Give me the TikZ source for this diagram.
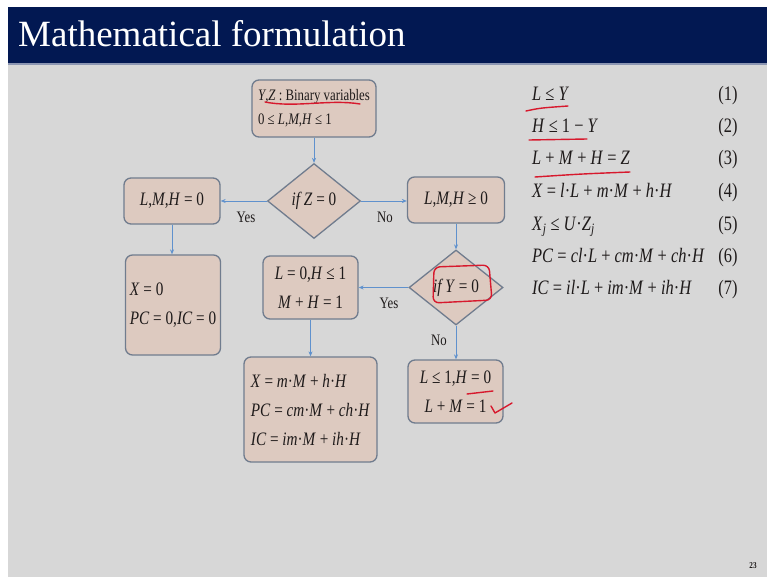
\documentclass[tikz,border=0pt]{standalone}
\usepackage{fontspec}
\setmainfont[FakeStretch=0.8]{Liberation Serif}
\newfontfamily\titlefont{Liberation Serif}
\usetikzlibrary{shapes.geometric,arrows.meta}
\definecolor{navy}{RGB}{2,24,82}
\definecolor{slidebg}{RGB}{215,215,215}
\definecolor{headline}{RGB}{140,150,178}
\definecolor{boxfill}{RGB}{221,202,192}
\definecolor{boxline}{RGB}{112,124,142}
\definecolor{arrowc}{RGB}{95,145,205}
\definecolor{ink}{RGB}{215,25,45}
\definecolor{txt}{RGB}{30,26,26}
\newcommand\iv[1]{\textit{#1}}
\newcommand\cdt{·}
\tikzset{
  box/.style={draw=boxline, fill=boxfill, line width=1.3pt, rounded corners=7pt, inner sep=0pt, text=txt, font=\fontsize{19}{29}\selectfont},
  dia/.style={diamond, draw=boxline, fill=boxfill, line width=1.3pt, inner sep=0pt, text=txt, font=\fontsize{19}{22}\selectfont},
  conn/.style={draw=arrowc, line width=0.8pt, -{Stealth[length=5pt,width=4pt]}},
  lbl/.style={font=\fontsize{16}{18}\selectfont, text=txt, inner sep=0pt},
  eq/.style={font=\fontsize{20.5}{22}\selectfont, text=txt, anchor=base west, inner sep=0pt},
  eqn/.style={font=\fontsize{20.5}{22}\selectfont, text=txt, anchor=base, inner sep=0pt},
  redink/.style={draw=ink, line width=1.4pt, line cap=round, line join=round},
}
\begin{document}
\begin{tikzpicture}[x=1pt,y=-1pt]
\useasboundingbox (0,0) rectangle (767,577);
\fill[white] (0,0) rectangle (767,577);
\fill[slidebg] (8,7) rectangle (767,577);
\fill[navy] (8,7) rectangle (767,63);
\draw[headline, line width=2pt] (8,64) -- (767,64);
\node[anchor=base west, text=white, font=\titlefont\fontsize{37}{40}\selectfont, inner sep=0pt] (title) at (18,47) {Mathematical formulation};

% flowchart
\node[box, minimum width=124pt, minimum height=57pt, align=left, font=\fontsize{16}{24}\selectfont] (top) at (314,108.5)
  {\iv{Y},\iv{Z} : Binary variables\\0 ≤ \iv{L},\iv{M},\iv{H} ≤ 1};
\node[dia, minimum width=93pt, minimum height=75pt] (dz) at (314,201) {\iv{if Z} = 0};
\node[box, minimum width=96pt, minimum height=46pt] (lmh0) at (172,201) {\iv{L},\iv{M},\iv{H} = 0};
\node[box, minimum width=97pt, minimum height=46pt] (lmhge) at (456,200) {\iv{L},\iv{M},\iv{H} ≥ 0};
\node[dia, minimum width=94pt, minimum height=75pt] (dy) at (456,287.5) {\iv{if Y} = 0};
\node[box, minimum width=95pt, minimum height=100pt, align=left] (x0) at (173,305) {\iv{X} = 0\\\iv{PC} = 0,\iv{IC} = 0};
\node[box, minimum width=95pt, minimum height=63pt, align=center] (l0) at (310.5,287.5) {\iv{L} = 0,\iv{H} ≤ 1\\\iv{M} + \iv{H} = 1};
\node[box, minimum width=133pt, minimum height=105pt, align=left] (xm) at (310.5,409.5)
  {\iv{X} = \iv{m}\cdt\iv{M} + \iv{h}\cdt\iv{H}\\\iv{PC} = \iv{cm}\cdt\iv{M} + \iv{ch}\cdt\iv{H}\\\iv{IC} = \iv{im}\cdt\iv{M} + \iv{ih}\cdt\iv{H}};
\node[box, minimum width=95pt, minimum height=63pt, align=center] (l1) at (455.5,391.5) {\iv{L} ≤ 1,\iv{H} = 0\\\iv{L} + \iv{M} = 1};

\draw[conn] (top.south) -- (dz.north);
\draw[conn] (dz.west) -- (lmh0.east);
\draw[conn] (dz.east) -- (lmhge.west |- dz.east);
\draw[conn] (lmh0.south) -- (x0.north -| lmh0.south);
\draw[conn] (lmhge.south) -- (dy.north);
\draw[conn] (dy.west) -- (l0.east |- dy.west);
\draw[conn] (dy.south) -- (l1.north -| dy.south);
\draw[conn] (l0.south) -- (xm.north);

\node[lbl] (yes1) at (246,217) {Yes};
\node[lbl] (no1) at (385,217) {No};
\node[lbl] (yes2) at (389,303) {Yes};
\node[lbl] (no2) at (439,340) {No};

% equations
\node[eq] (e1) at (532,101) {\iv{L} ≤ \iv{Y}};
\node[eq] (e2) at (532,133) {\iv{H} ≤ 1 − \iv{Y}};
\node[eq] (e3) at (532,165) {\iv{L} + \iv{M} + \iv{H} = \iv{Z}};
\node[eq] (e4) at (532,198) {\iv{X} = \iv{l}\cdt\iv{L} + \iv{m}\cdt\iv{M} + \iv{h}\cdt\iv{H}};
\node[eq] (e5) at (532,230) {\iv{X}\textsubscript{\iv{j}} ≤ \iv{U}\cdt\iv{Z}\textsubscript{\iv{j}}};
\node[eq] (e6) at (532,262) {\iv{PC} = \iv{cl}\cdt\iv{L} + \iv{cm}\cdt\iv{M} + \iv{ch}\cdt\iv{H}};
\node[eq] (e7) at (532,294) {\iv{IC} = \iv{il}\cdt\iv{L} + \iv{im}\cdt\iv{M} + \iv{ih}\cdt\iv{H}};
\node[eqn] (n1) at (728,101) {(1)};
\node[eqn] (n2) at (728,133) {(2)};
\node[eqn] (n3) at (728,165) {(3)};
\node[eqn] (n4) at (728,198) {(4)};
\node[eqn] (n5) at (728,230) {(5)};
\node[eqn] (n6) at (728,262) {(6)};
\node[eqn] (n7) at (728,294) {(7)};

% red ink
\draw[redink] (265,102) .. controls (295,108) and (330,99) .. (360,104);
\draw[redink] (526,111) .. controls (540,108) .. (568,106);
\draw[redink] (529,140) -- (587,139);
\draw[redink] (535,177) .. controls (580,174) .. (630,172);
\draw[redink, rounded corners=6pt] (434,267) -- (489,265) -- (492,300) -- (433,303) -- cycle;
\draw[redink] (467,394) -- (493,391);
\draw[redink] (491,406) -- (495,413) -- (512,403);

\node[font=\bfseries\fontsize{9}{10}\selectfont, text=txt] (pg) at (753,566) {23};
\end{tikzpicture}
\end{document}
